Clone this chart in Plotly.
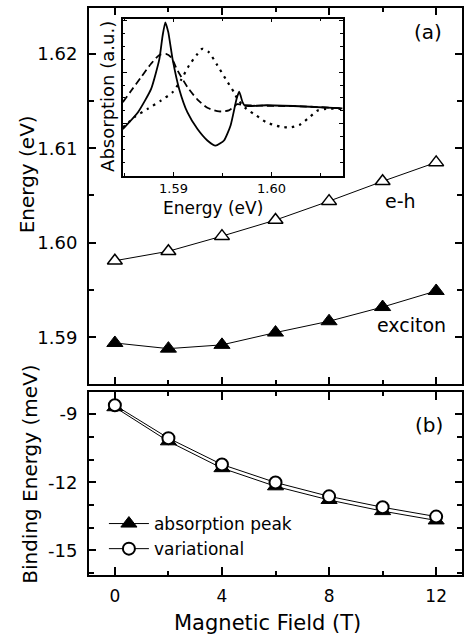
import plotly.graph_objects as go

# ---------------- data ----------------
field_T = [0, 2, 4, 6, 8, 10, 12]
eh_energy = [1.5981, 1.5991, 1.6007, 1.6024, 1.6044, 1.6065, 1.6085]
exciton_energy = [1.5894, 1.5888, 1.5892, 1.5905, 1.5917, 1.5932, 1.5949]

abs_peak_binding = [-8.70, -10.20, -11.38, -12.18, -12.78, -13.27, -13.68]
variational_binding = [-8.61, -10.06, -11.22, -12.01, -12.62, -13.10, -13.51]

# inset absorption spectra (arbitrary units)
solid_E = [1.58482, 1.58635, 1.58770, 1.58855, 1.58888, 1.58916, 1.58946, 1.58990,
           1.59058, 1.59142, 1.59244, 1.59345, 1.59429, 1.59515, 1.59582, 1.59643,
           1.59670, 1.59704, 1.59728, 1.59947, 1.60286, 1.60726]
solid_A = [0.90, 1.22, 1.67, 2.25, 2.70, 2.96, 2.77, 2.25,
           1.67, 1.22, 0.90, 0.68, 0.58, 0.68, 0.97, 1.48,
           1.62, 1.42, 1.35, 1.36, 1.34, 1.30]

dash_E = [1.58482, 1.58567, 1.58668, 1.58770, 1.58855, 1.58922, 1.58973, 1.59041,
          1.59142, 1.59244, 1.59345, 1.59464, 1.59565, 1.59650, 1.59728, 1.60286, 1.60726]
dash_A = [1.42, 1.64, 1.90, 2.16, 2.33, 2.35, 2.29, 2.03,
          1.71, 1.47, 1.31, 1.24, 1.26, 1.38, 1.36, 1.34, 1.30]

dot_E = [1.58482, 1.58601, 1.58736, 1.58871, 1.58990, 1.59074, 1.59159, 1.59244,
         1.59294, 1.59362, 1.59447, 1.59531, 1.59617, 1.59660, 1.59744, 1.59846,
         1.59947, 1.60083, 1.60185, 1.60286, 1.60388, 1.60472, 1.60556, 1.60726]
dot_A = [0.93, 1.13, 1.29, 1.45, 1.61, 1.84, 2.13, 2.35,
         2.45, 2.38, 2.13, 1.87, 1.61, 1.46, 1.29, 1.16,
         1.03, 0.95, 0.93, 0.98, 1.13, 1.26, 1.29, 1.29]

top_yticks = [1.59, 1.60, 1.61, 1.62]
bottom_yticks = [-9, -12, -15]
bottom_yticklabels = ["-9", "-12", "-15"]
x_ticks = [0, 4, 8, 12]
inset_xticks = [1.59, 1.60]

FONT = "DejaVu Sans"
BLACK = "black"

fig = go.Figure()

# ---------------- top panel ----------------
fig.add_trace(go.Scatter(
    x=field_T, y=eh_energy, mode="lines+markers", xaxis="x", yaxis="y",
    line=dict(color=BLACK, width=1),
    marker=dict(symbol="triangle-up", size=13, color="white",
                line=dict(color=BLACK, width=1.5)),
    showlegend=False, name="e-h"))
fig.add_trace(go.Scatter(
    x=field_T, y=exciton_energy, mode="lines+markers", xaxis="x", yaxis="y",
    line=dict(color=BLACK, width=1),
    marker=dict(symbol="triangle-up", size=14, color=BLACK,
                line=dict(color=BLACK, width=1)),
    showlegend=False, name="exciton"))

# ---------------- bottom panel ----------------
fig.add_trace(go.Scatter(
    x=field_T, y=abs_peak_binding, mode="lines+markers", xaxis="x2", yaxis="y2",
    line=dict(color=BLACK, width=1),
    marker=dict(symbol="triangle-up", size=14, color=BLACK,
                line=dict(color=BLACK, width=1)),
    name="absorption peak"))
fig.add_trace(go.Scatter(
    x=field_T, y=variational_binding, mode="lines+markers", xaxis="x2", yaxis="y2",
    line=dict(color=BLACK, width=1),
    marker=dict(symbol="circle", size=12, color="white",
                line=dict(color=BLACK, width=2)),
    name="variational"))

# ---------------- inset ----------------
fig.add_trace(go.Scatter(
    x=solid_E, y=solid_A, mode="lines", xaxis="x3", yaxis="y3",
    line=dict(color=BLACK, width=1.8, shape="spline", smoothing=0.5),
    showlegend=False))
fig.add_trace(go.Scatter(
    x=dash_E, y=dash_A, mode="lines", xaxis="x3", yaxis="y3",
    line=dict(color=BLACK, width=1.8, dash="7px,4px", shape="spline", smoothing=0.6),
    showlegend=False))
fig.add_trace(go.Scatter(
    x=dot_E, y=dot_A, mode="lines", xaxis="x3", yaxis="y3",
    line=dict(color=BLACK, width=2.2, dash="2.5px,5px", shape="spline", smoothing=0.6),
    showlegend=False))

# ---------------- geometry ----------------
L, T, B = 89, 8, 64
H, W = 639, 464
ph = H - T - B
pw = W - L


def py(px_y):
    return (H - B - px_y) / ph


def pxx(px_x):
    return (px_x - L) / pw


tickfont = dict(family=FONT, size=18, color=BLACK)
common_axis = dict(showline=True, linecolor=BLACK, linewidth=2, mirror="ticks",
                   ticks="inside", tickcolor=BLACK, showgrid=False, zeroline=False)

xrange = [-0.966, 12.965]

fig.update_layout(
    width=W, height=H,
    margin=dict(l=L, r=0, t=T, b=B, pad=0),
    paper_bgcolor="white", plot_bgcolor="white",
    font=dict(family=FONT, color=BLACK),
    xaxis=dict(domain=[0, 1], anchor="y", range=xrange,
               tickvals=x_ticks, showticklabels=False, ticklen=7, tickwidth=1.5,
               minor=dict(dtick=2, tick0=0, ticks="inside", ticklen=4, tickcolor=BLACK, tickwidth=1.5),
               **common_axis),
    yaxis=dict(domain=[py(384), 1], anchor="x", range=[1.58506, 1.62483],
               tickvals=top_yticks, tickformat=".2f", ticklen=7, tickwidth=1.5,
               tickfont=tickfont, ticklabelstandoff=6,
               minor=dict(dtick=0.005, tick0=1.59, ticks="inside", ticklen=5, tickcolor=BLACK, tickwidth=1.5),
               **common_axis),
    xaxis2=dict(domain=[0, 1], anchor="y2", range=xrange,
                tickvals=x_ticks, ticktext=[str(v) for v in x_ticks],
                ticklen=8, tickwidth=1.5, tickfont=dict(family=FONT, size=17, color=BLACK),
                ticklabelstandoff=5,
                minor=dict(dtick=2, tick0=0, ticks="inside", ticklen=4, tickcolor=BLACK, tickwidth=1.5),
                **common_axis),
    yaxis2=dict(domain=[0, py(392)], anchor="x2", range=[-16.08, -8.03],
                tickvals=bottom_yticks, ticktext=bottom_yticklabels,
                ticklen=7, tickwidth=1.5, tickfont=tickfont, ticklabelstandoff=6,
                minor=dict(dtick=1, tick0=-9, ticks="inside", ticklen=5, tickcolor=BLACK, tickwidth=1.5),
                **common_axis),
    xaxis3=dict(domain=[pxx(123), pxx(344)], anchor="y3", range=[1.58482, 1.60726],
                tickvals=inset_xticks, tickformat=".2f", ticklen=4, tickwidth=1,
                tickfont=dict(family=FONT, size=13, color=BLACK), ticklabelstandoff=0,
                minor=dict(dtick=0.005, tick0=1.59, ticks="inside", ticklen=3, tickcolor=BLACK, tickwidth=1),
                showline=True, linecolor=BLACK, linewidth=1.5, mirror="ticks",
                ticks="inside", tickcolor=BLACK, showgrid=False, zeroline=False),
    yaxis3=dict(domain=[py(175.7), py(18.7)], anchor="x3", range=[0, 3.03],
                dtick=1, tick0=0, showticklabels=False, ticklen=4, tickwidth=1,
                minor=dict(dtick=0.25, tick0=0, ticks="inside", ticklen=2.5, tickcolor=BLACK, tickwidth=1),
                showline=True, linecolor=BLACK, linewidth=1.5, mirror="ticks",
                ticks="inside", tickcolor=BLACK, showgrid=False, zeroline=False),
    legend=dict(x=pxx(104), y=py(506), xanchor="left", yanchor="top",
                bgcolor="rgba(0,0,0,0)", font=dict(family=FONT, size=17, color=BLACK),
                itemwidth=40, tracegroupgap=0, traceorder="normal"),
    showlegend=True,
)

ann = [
    dict(text="Energy (eV)", x=pxx(27), y=py(174), textangle=-90, size=20),
    dict(text="Binding Energy (meV)", x=pxx(29), y=py(474.5), textangle=-90, size=20),
    dict(text="Magnetic Field (T)", x=pxx(268), y=py(623), textangle=0, size=21),
    dict(text="Absorption (a.u.)", x=pxx(107), y=py(96), textangle=-90, size=18),
    dict(text="Energy (eV)", x=pxx(214), y=py(207.5), textangle=0, size=17),
    dict(text="(a)", x=pxx(430), y=py(31.7), textangle=0, size=20),
    dict(text="e-h", x=pxx(402), y=py(201), textangle=0, size=19),
    dict(text="exciton", x=pxx(413.7), y=py(325), textangle=0, size=19),
    dict(text="(b)", x=pxx(431), y=py(425), textangle=0, size=20),
]
for a in ann:
    fig.add_annotation(text=a["text"], x=a["x"], y=a["y"], xref="paper", yref="paper",
                       xanchor="center", yanchor="middle", showarrow=False,
                       textangle=a["textangle"],
                       font=dict(family=FONT, size=a["size"], color=BLACK))

fig.write_html("out.html")
